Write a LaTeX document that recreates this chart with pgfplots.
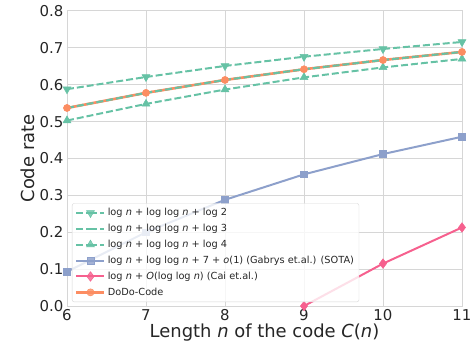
\documentclass[border=0pt]{standalone}
\usepackage{fontspec}
\setmainfont{DejaVu Sans}
\usepackage{pgfplots}
\pgfplotsset{compat=1.18}
\definecolor{teal2}{RGB}{102,194,165}
\definecolor{orng}{RGB}{252,141,98}
\definecolor{blu}{RGB}{141,160,203}
\definecolor{pnk}{RGB}{246,96,142}
\definecolor{gridc}{RGB}{214,214,214}
\definecolor{txt}{RGB}{38,38,38}
\newcommand{\vn}{\textit{n}}
\begin{document}
\begin{tikzpicture}
\begin{axis}[
  at={(0,0)}, anchor=south west,
  scale only axis, width=395bp, height=295bp,
  xmin=6, xmax=11, ymin=0, ymax=0.8,
  xtick={6,7,8,9,10,11}, ytick={0,0.1,...,0.8},
  /pgf/number format/assume math mode=true,
  yticklabel style={/pgf/number format/fixed,/pgf/number format/fixed zerofill,/pgf/number format/precision=1},
  ticklabel style={font=\fontsize{15}{18}\selectfont, text=txt},
  major tick length=0pt,
  grid=major, major grid style={gridc, line width=1pt},
  axis line style={gridc, line width=1pt},
  xlabel={Length \vn\ of the code \textit{C}(\vn)},
  ylabel={Code rate},
  label style={font=\fontsize{18}{21}\selectfont, text=txt},
  xlabel style={yshift=4bp},
  ylabel style={yshift=-2bp},
  legend style={at={(5bp,4bp)}, anchor=south west, font=\fontsize{9.8}{11.5}\selectfont, text=txt,
    draw=gridc, fill=white, fill opacity=0.8, text opacity=1, rounded corners=2pt,
    row sep=3pt, inner sep=3pt},
  legend cell align=left,
  legend image code/.code={\draw[#1] (0bp,0bp) -- (14bp,0bp) plot coordinates {(14bp,0bp)} -- (28bp,0bp);},
  clip=true,
]
\addplot[teal2, line width=2pt, dash pattern=on 7pt off 3pt, mark=triangle*, mark options={solid, rotate=180, scale=2.3, line width=0.5pt}] coordinates {
 (6,0.588) (7,0.621) (8,0.651) (9,0.676) (10,0.697) (11,0.716)};
\addlegendentry{log \vn\ + log log \vn\ + log 2}
\addplot[teal2, line width=2pt, dash pattern=on 7pt off 3pt] coordinates {
 (6,0.537) (7,0.578) (8,0.613) (9,0.642) (10,0.667) (11,0.689)};
\addlegendentry{log \vn\ + log log \vn\ + log 3}
\addplot[teal2, line width=2pt, dash pattern=on 7pt off 3pt, mark=triangle*, mark options={solid, scale=2.3, line width=0.5pt}] coordinates {
 (6,0.503) (7,0.548) (8,0.587) (9,0.620) (10,0.647) (11,0.670)};
\addlegendentry{log \vn\ + log log \vn\ + log 4}
\addplot[blu, line width=2pt, mark=square*, mark options={scale=1.7, line width=0.5pt}] coordinates {
 (6,0.093) (7,0.200) (8,0.288) (9,0.357) (10,0.412) (11,0.459)};
\addlegendentry{log \vn\ + log log \vn\ + 7 + \textit{o}(1) (Gabrys et.al.) (SOTA)}
\addplot[pnk, line width=2pt, mark=diamond*, mark options={scale=2.4, line width=0.5pt}] coordinates {
 (9,0.0) (10,0.115) (11,0.213)};
\addlegendentry{log \vn\ + \textit{O}(log log \vn) (Cai et.al.)}
\addplot[orng, line width=2.6pt, mark=*, mark options={scale=1.8, line width=0.5pt}] coordinates {
 (6,0.537) (7,0.578) (8,0.613) (9,0.642) (10,0.667) (11,0.689)};
\addlegendentry{DoDo-Code}
\addplot[teal2, line width=2pt, dash pattern=on 7pt off 3pt, forget plot] coordinates {
 (6,0.537) (7,0.578) (8,0.613) (9,0.642) (10,0.667) (11,0.689)};
\end{axis}
\pgfresetboundingbox
\useasboundingbox (-67bp,-45bp) rectangle (404bp,306bp);
\end{tikzpicture}
\end{document}
